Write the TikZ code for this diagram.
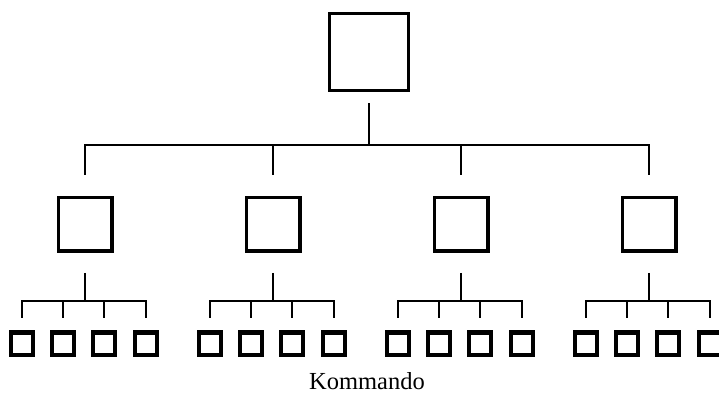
\documentclass[tikz,border=0pt]{standalone}
\usepackage{fontspec}
\setmainfont{Liberation Serif}
\begin{document}
\begin{tikzpicture}[x=1pt,y=-1pt,
  bigbox/.style={draw=black,line width=3.4pt,minimum width=78.6pt,minimum height=77pt,inner sep=0pt,outer sep=12.6pt,fill=white},
  midbox/.style={draw=black,line width=3.4pt,minimum width=53.6pt,minimum height=53.6pt,inner sep=0pt,outer sep=22pt,fill=white},
  smallbox/.style={draw=black,line width=4.4pt,minimum width=22.4pt,minimum height=22.4pt,inner sep=0pt,outer sep=14.2pt,fill=white},
  conn/.style={draw=black,line width=2pt},
  lbl/.style={font=\fontsize{24.5}{28}\selectfont,inner sep=0pt,anchor=base}]
\useasboundingbox (0,0) rectangle (719,394);
\begin{scope}
\clip (0,0) rectangle (719,394);
\node[bigbox] (top) at (369,52) {};
\coordinate (bus) at (369,145);
\foreach \i/\c in {1/85,2/273,3/461,4/649}{
  \node[midbox] (m\i) at (\c,224) {};
  \coordinate (b\i) at (\c,301);
  \foreach \j/\d in {1/-63,2/-22,3/19,4/61}{
    \node[smallbox] (s\i\j) at (\c+\d,343.5) {};
  }
}
\draw[conn] (top.south) -- (bus);
\foreach \i in {1,...,4}{
  \draw[conn] (bus) -| (m\i.north);
  \draw[conn] (m\i.south) -- (b\i);
  \foreach \j in {1,...,4}{
    \draw[conn] (b\i) -| (s\i\j.north);
  }
}
\end{scope}
\node[lbl] (cap) at (367,389) {Kommando};
\end{tikzpicture}
\end{document}
